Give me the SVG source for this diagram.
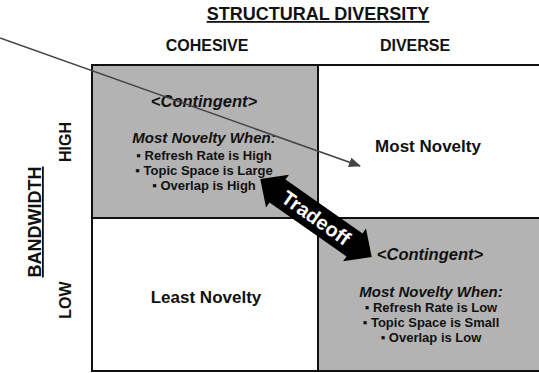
<svg xmlns="http://www.w3.org/2000/svg" width="539" height="373" viewBox="0 0 539 373">
  <style>
    text { font-family: "Liberation Sans", Arial, sans-serif; fill: #111; text-anchor: middle; }
    .axis { font-size: 18px; font-weight: bold; text-decoration: underline; }
    .col { font-size: 16px; font-weight: bold; }
    .big { font-size: 17px; font-weight: bold; }
    .cont { font-size: 16.5px; font-weight: bold; font-style: italic; }
    .when { font-size: 15px; font-weight: bold; font-style: italic; }
    .bul { font-size: 13px; font-weight: bold; }
    .cell { stroke: #111; stroke-width: 2; }
    .gray { fill: #b3b3b3; }
    .white { fill: #ffffff; }
    .pointer { stroke: #444; stroke-width: 1.6; fill: none; }
  </style>
  <defs>
    <marker id="head" viewBox="0 0 12 10" refX="11" refY="5" markerWidth="12" markerHeight="10" markerUnits="userSpaceOnUse" orient="auto">
      <path d="M0,0 L12,5 L0,10 Z" fill="#444"/>
    </marker>
  </defs>

  <rect width="539" height="373" fill="#ffffff"/>

  <!-- axis titles -->
  <g id="axis-structural">
    <text class="axis" x="318" y="20">STRUCTURAL DIVERSITY</text>
    <text class="col" x="207" y="51">COHESIVE</text>
    <text class="col" x="415" y="51">DIVERSE</text>
  </g>
  <g id="axis-bandwidth">
    <text class="axis" transform="translate(41,222) rotate(-90)">BANDWIDTH</text>
    <text class="col" transform="translate(71,142) rotate(-90)">HIGH</text>
    <text class="col" transform="translate(71,300) rotate(-90)">LOW</text>
  </g>

  <!-- quadrants -->
  <g id="cell-cohesive-high">
    <rect class="cell gray" x="92" y="65" width="226" height="153"/>
    <text class="cont" x="204" y="107">&lt;Contingent&gt;</text>
    <text class="when" x="204" y="143">Most Novelty When:</text>
    <text class="bul" x="204" y="160">▪ Refresh Rate is High</text>
    <text class="bul" x="204" y="175">▪ Topic Space is Large</text>
    <text class="bul" x="204" y="190">▪ Overlap is High</text>
  </g>
  <g id="cell-diverse-high">
    <rect class="cell white" x="318" y="65" width="230" height="153"/>
    <text class="big" x="428" y="152">Most Novelty</text>
  </g>
  <g id="cell-cohesive-low">
    <rect class="cell white" x="92" y="218" width="226" height="153"/>
    <text class="big" x="206" y="303">Least Novelty</text>
  </g>
  <g id="cell-diverse-low">
    <rect class="cell gray" x="318" y="218" width="230" height="153"/>
    <text class="cont" x="430" y="260">&lt;Contingent&gt;</text>
    <text class="when" x="431" y="297">Most Novelty When:</text>
    <text class="bul" x="431" y="312">▪ Refresh Rate is Low</text>
    <text class="bul" x="431" y="327">▪ Topic Space is Small</text>
    <text class="bul" x="431" y="342">▪ Overlap is Low</text>
  </g>

  <!-- connectors -->
  <g id="connectors">
    <line class="pointer" x1="0" y1="38" x2="360" y2="166" marker-end="url(#head)"/>
    <g id="tradeoff" transform="translate(316,218) rotate(35)">
      <polygon points="-68,0 -47,-20 -47,-14 47,-14 47,-20 68,0 47,20 47,14 -47,14 -47,20" fill="#000"/>
      <text x="0" y="7" style="font-size:20px;font-weight:bold;fill:#fff">Tradeoff</text>
    </g>
  </g>
</svg>
